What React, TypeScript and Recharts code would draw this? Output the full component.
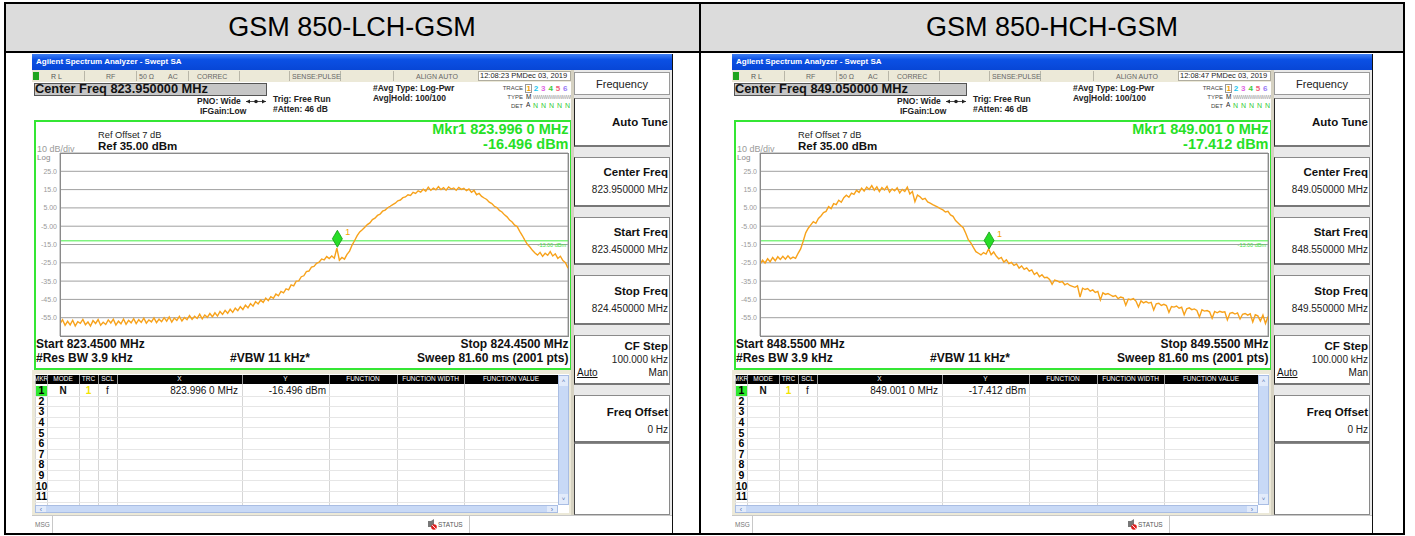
import React from "react";
import { CartesianGrid, Line, LineChart, ReferenceDot, ReferenceLine, XAxis, YAxis } from "recharts";

const FONT = "'Liberation Sans', Arial, Helvetica, sans-serif";

// 10 dB/div, ref 35 dBm
const yTicks = [35, 25, 15, 5, -5, -15, -25, -35, -45, -55, -65];
const xDivs = [0, 0.1, 0.2, 0.3, 0.4, 0.5, 0.6, 0.7, 0.8, 0.9, 1];
const limitDbm = -13;

const lchRange = [823.45, 824.45];
const hchRange = [848.55, 849.55];
const lchMarker = { f: 823.996, v: -16.496 };
const hchMarker = { f: 849.001, v: -17.412 };

// trace levels (dBm), 201 points across the span
const lchLevels = [
  -58.4, -56.1, -59.2, -57.0, -58.9, -56.4, -59.5, -57.2, -58.1, -55.9,
  -58.8, -57.3, -59.6, -56.6, -58.2, -56.0, -59.1, -57.5, -58.7, -56.2,
  -57.9, -55.8, -59.0, -56.9, -58.3, -55.7, -58.6, -56.4, -57.8, -55.5,
  -58.2, -56.1, -57.6, -55.3, -58.0, -56.2, -57.3, -55.1, -57.7, -55.8,
  -57.2, -55.0, -56.9, -54.6, -57.4, -55.2, -56.5, -54.3, -56.8, -54.9,
  -56.1, -53.8, -55.9, -54.2, -55.4, -53.1, -55.6, -53.5, -54.8, -52.7,
  -54.5, -52.3, -54.1, -51.6, -53.2, -51.0, -52.6, -50.4, -52.1, -49.8,
  -51.2, -49.0, -50.5, -48.1, -49.6, -47.3, -48.7, -46.2, -47.5, -45.4,
  -46.6, -44.3, -45.7, -43.5, -44.4, -42.1, -43.0, -40.6, -41.4, -39.2,
  -39.8, -37.1, -37.6, -35.0, -34.9, -32.6, -32.1, -29.8, -29.5, -27.4,
  -27.0, -25.3, -24.6, -22.9, -23.4, -21.6, -22.7, -21.3, -22.5, -17.0,
  -23.6, -22.1, -23.0, -20.4, -18.6, -15.3, -12.8, -10.2, -8.1, -6.9,
  -5.6, -4.1, -3.2, -1.4, -0.6, 0.9, 1.6, 3.2, 3.8, 5.1,
  5.9, 6.8, 7.6, 8.9, 9.3, 10.6, 11.0, 12.2, 11.8, 13.5,
  12.9, 14.3, 13.6, 15.2, 14.1, 16.3, 14.6, 15.8, 14.9, 16.6,
  15.0, 16.1, 14.7, 16.4, 15.3, 15.9, 14.6, 16.2, 15.1, 15.7,
  14.4, 15.3, 13.5, 14.6, 12.2, 12.9, 11.3, 10.4, 9.6, 8.1,
  7.4, 5.9, 5.2, 3.6, 2.8, 1.2, 0.1, -1.6, -2.7, -4.4,
  -5.2, -7.8, -10.1, -12.6, -14.9, -16.4, -18.2, -19.6, -20.8, -19.3,
  -21.5, -19.8, -20.9, -18.9, -21.3, -20.1, -22.6, -21.4, -23.8, -24.9,
  -28.0,
];

const hchLevels = [
  -25.8, -23.6, -25.1, -22.8, -24.4, -22.1, -23.9, -21.7, -23.2, -21.5,
  -23.0, -21.2, -22.8, -21.9, -22.6, -19.8, -17.4, -13.2, -8.6, -6.1,
  -4.3, -2.5, -3.4, -0.8, 0.6, 2.4, 3.1, 5.7, 4.6, 7.3,
  6.8, 9.2, 8.1, 10.6, 11.9, 10.8, 13.1, 12.4, 14.6, 13.5,
  15.8, 14.2, 16.4, 15.1, 17.2, 14.7, 16.5, 13.9, 16.1, 14.8,
  16.7, 13.6, 15.4, 14.3, 16.0, 13.2, 15.1, 14.0, 16.4, 12.6,
  13.9, 8.4, 12.0, 11.1, 9.6, 10.2, 8.3, 7.6, 6.8, 6.1,
  5.4, 4.6, 3.9, 2.8, 3.1, 1.2, 0.4, -1.9, -3.2, -4.6,
  -5.8, -8.9, -12.4, -14.1, -16.6, -18.9, -19.8, -20.7, -19.4, -20.2,
  -17.4, -20.6, -19.1, -21.3, -22.8, -22.1, -24.6, -23.4, -25.5, -24.8,
  -26.4, -25.6, -27.9, -26.7, -28.6, -27.8, -29.6, -28.9, -31.4, -30.3,
  -32.6, -31.5, -33.2, -32.9, -34.1, -36.8, -34.4, -34.9, -35.6, -35.2,
  -37.0, -36.3, -37.4, -37.9, -38.4, -37.6, -43.7, -38.9, -39.6, -39.1,
  -40.5, -39.8, -41.2, -40.6, -45.3, -41.4, -42.3, -41.8, -42.6, -43.4,
  -42.9, -44.6, -43.7, -44.1, -48.2, -44.8, -45.2, -44.6, -45.9, -49.1,
  -45.8, -46.9, -46.2, -47.0, -46.6, -50.8, -47.4, -47.1, -48.3, -47.7,
  -48.4, -52.1, -48.9, -49.2, -48.6, -49.8, -49.3, -53.4, -50.1, -49.6,
  -50.6, -50.2, -51.0, -54.6, -50.7, -51.4, -51.1, -51.8, -55.3, -51.6,
  -52.3, -51.5, -52.0, -51.8, -56.2, -52.6, -52.2, -53.0, -52.4, -55.7,
  -53.1, -52.7, -53.6, -52.9, -57.4, -53.4, -54.0, -56.8, -53.6, -58.2,
  -54.4,
];

const tableHeaders = ["MKR", "MODE", "TRC", "SCL", "X", "Y", "FUNCTION", "FUNCTION WIDTH", "FUNCTION VALUE"];
const tableCols = [3, 15, 47, 66, 85, 210, 297, 365, 432, 526];
const rowNums = [1, 2, 3, 4, 5, 6, 7, 8, 9, 10, 11];
const traceDigits = [
  { d: "1", c: "#f0a000" },
  { d: "2", c: "#19c6f0" },
  { d: "3", c: "#e066e0" },
  { d: "4", c: "#3ccc3c" },
  { d: "5", c: "#f0607a" },
  { d: "6", c: "#9a7cf5" },
];

const panels = [
  {
    title: "GSM 850-LCH-GSM",
    center: "823.950000 MHz",
    startVal: "823.450000 MHz",
    stopVal: "824.450000 MHz",
    start: "823.4500 MHz",
    stop: "824.4500 MHz",
    time: "12:08:23 PMDec 03, 2019",
    range: lchRange,
    levels: lchLevels,
    marker: lchMarker,
    mkrX: "823.996 0 MHz",
    mkrY: "-16.496 dBm",
  },
  {
    title: "GSM 850-HCH-GSM",
    center: "849.050000 MHz",
    startVal: "848.550000 MHz",
    stopVal: "849.550000 MHz",
    start: "848.5500 MHz",
    stop: "849.5500 MHz",
    time: "12:08:47 PMDec 03, 2019",
    range: hchRange,
    levels: hchLevels,
    marker: hchMarker,
    mkrX: "849.001 0 MHz",
    mkrY: "-17.412 dBm",
  },
];

function T({ x, y, s = 8, b = false, c = "#111", a = "l", children, style }: any) {
  const w = 600;
  const left = a === "l" ? x : a === "r" ? x - w : x - w / 2;
  return (
    <div
      style={{
        position: "absolute",
        left,
        top: y - s / 2,
        width: w,
        height: s,
        lineHeight: `${s}px`,
        fontSize: s,
        fontWeight: b ? 700 : 400,
        color: c,
        textAlign: a === "l" ? "left" : a === "r" ? "right" : "center",
        whiteSpace: "nowrap",
        ...style,
      }}
    >
      {children}
    </div>
  );
}

function Box({ x, y, w, h, style }: any) {
  return <div style={{ position: "absolute", left: x, top: y, width: w, height: h, boxSizing: "border-box", ...style }} />;
}

const fmtY = (v: number) => (v === 35 || v === -65 ? "" : Math.abs(v) < 10 ? v.toFixed(2) : v.toFixed(1));

const Diamond = (props: any) => {
  const { cx, cy } = props;
  return (
    <g>
      <polygon
        points={`${cx},${cy} ${cx + 5},${cy - 8.5} ${cx},${cy - 17} ${cx - 5},${cy - 8.5}`}
        fill="#27dd27"
        stroke="#129a12"
        strokeWidth={0.8}
      />
      <text x={cx + 8} y={cy - 12} fontSize={9} fill="#f5a300" fontFamily={FONT}>
        1
      </text>
    </g>
  );
};

const keyStyle = {
  background: "#fff",
  border: "1px solid #8a8a8a",
  borderLeft: "1px solid #222",
  borderBottom: "2px solid #777",
};

function Analyzer({ p, left, top }: any) {
  const [f0, f1] = p.range;
  const step = (f1 - f0) / (p.levels.length - 1);
  const data = p.levels.map((v: number, i: number) => ({ f: f0 + i * step, v }));
  const xTicks = xDivs.map((d) => f0 + d * (f1 - f0));

  const keys = [
    { top: 44, h: 49, label: "Auto Tune", ly: 25 },
    { top: 103, h: 50, label: "Center Freq", ly: 16, value: p.center, vy: 33 },
    { top: 163, h: 48, label: "Start Freq", ly: 16, value: p.startVal, vy: 33 },
    { top: 221, h: 50, label: "Stop Freq", ly: 17, value: p.stopVal, vy: 34 },
    { top: 281, h: 50, label: "CF Step", ly: 12, value: "100.000 kHz", vy: 25, auto: true },
    { top: 341, h: 48, label: "Freq Offset", ly: 18, value: "0 Hz", vy: 35 },
  ];

  return (
    <div style={{ position: "absolute", left, top, width: 641, height: 479, background: "#fff", overflow: "hidden", fontFamily: FONT }}>
      {/* window title */}
      <Box x={0} y={0} w={641} h={16} style={{ background: "linear-gradient(#3f80f4, #0b50e4 35%, #0746d6)" }} />
      <T x={4} y={8} s={8} b c="#fff">Agilent Spectrum Analyzer - Swept SA</T>

      {/* status bar */}
      <Box x={0} y={16} w={540} h={12} style={{ background: "#ece9d8" }} />
      <Box x={1} y={18} w={6} h={8} style={{ background: "#1fa51f" }} />
      {[52, 104, 156, 207, 257, 308, 361].map((d) => (
        <Box key={d} x={d} y={17} w={1} h={10} style={{ background: "#b9b6a8" }} />
      ))}
      <T x={19} y={22} s={7} c="#555">R L</T>
      <T x={74} y={22} s={7} c="#666">RF</T>
      <T x={107} y={22} s={7} c="#666">50 Ω</T>
      <T x={136} y={22} s={7} c="#666">AC</T>
      <T x={165} y={22} s={7} c="#666">CORREC</T>
      <T x={260} y={22} s={7} c="#666">SENSE:PULSE</T>
      <T x={384} y={22} s={7} c="#666">ALIGN AUTO</T>
      <Box x={446} y={17} w={93} h={10} style={{ background: "#fff", border: "1px solid #b0ad9f" }} />
      <T x={448} y={22} s={7.5} c="#222">{p.time}</T>

      {/* settings area */}
      <Box x={1.5} y={29} w={233} h={13} style={{ background: "#c6c6c6", border: "1px solid #555" }} />
      <T x={3} y={35.5} s={12.8} b c="#111">Center Freq {p.center}</T>
      <T x={165} y={47} s={8.5} b c="#222">PNO: Wide</T>
      <svg style={{ position: "absolute", left: 213, top: 44 }} width={22} height={7}>
        <line x1={1} y1={3.5} x2={21} y2={3.5} stroke="#222" strokeWidth={0.8} />
        <polygon points="1,3.5 5,1.5 5,5.5" fill="#222" />
        <polygon points="21,3.5 17,1.5 17,5.5" fill="#222" />
        <circle cx={11} cy={3.5} r={1.8} fill="#222" />
      </svg>
      <T x={168} y={57.5} s={8.5} b c="#222">IFGain:Low</T>
      <T x={241} y={45} s={8.5} b c="#222">Trig: Free Run</T>
      <T x={241} y={55} s={8.5} b c="#222">#Atten: 46 dB</T>
      <T x={341} y={34} s={8.5} b c="#222">#Avg Type: Log-Pwr</T>
      <T x={341} y={44} s={8.5} b c="#222">Avg|Hold: 100/100</T>
      <T x={491} y={34} s={6} a="r" c="#444">TRACE</T>
      <T x={491} y={43} s={6} a="r" c="#444">TYPE</T>
      <T x={491} y={51.5} s={6} a="r" c="#444">DET</T>
      <Box x={493} y={30} w={7} h={9} style={{ border: "1px solid #999" }} />
      {traceDigits.map((t, i) => (
        <T key={t.d} x={494.5 + i * 7.3} y={34.5} s={8} b c={t.c}>{t.d}</T>
      ))}
      <T x={494} y={43} s={6.5} c="#222">M</T>
      <T x={501} y={43} s={5} c="#999" style={{ letterSpacing: -0.6 }}>WWWWWWWWWW</T>
      <T x={494} y={51.5} s={6.5} c="#222">A</T>
      <T x={501} y={51.5} s={7} c="#33cc33" style={{ letterSpacing: 0.5 }}>N N N N N</T>

      {/* display frame */}
      <Box x={2} y={66} w={538} h={250} style={{ border: "2px solid #34e634", background: "#fff" }} />
      <T x={66} y={82} s={9.3} c="#222">Ref Offset 7 dB</T>
      <T x={66} y={93} s={11.5} b c="#111">Ref 35.00 dBm</T>
      <T x={5} y={95} s={9} c="#9a9a9a">10 dB/div</T>
      <T x={5} y={103.5} s={8} c="#8a8a8a">Log</T>
      <T x={536.5} y={75.5} s={14.5} b a="r" c="#26e026">Mkr1 {p.mkrX}</T>
      <T x={536.5} y={90.5} s={14.5} b a="r" c="#26e026">{p.mkrY}</T>

      <div style={{ position: "absolute", left: 4, top: 96 }}>
        <LineChart width={534} height={190} data={data} margin={{ top: 3, right: 2, bottom: 4, left: 0 }} style={{ fontFamily: FONT }}>
          <CartesianGrid stroke="#a0a0a0" strokeWidth={1} />
          <XAxis
            type="number"
            dataKey="f"
            domain={[f0, f1]}
            ticks={xTicks}
            tick={false}
            tickLine={false}
            axisLine={false}
            height={0}
            allowDataOverflow
          />
          <YAxis
            type="number"
            domain={[-65, 35]}
            ticks={yTicks}
            interval={0}
            tickFormatter={fmtY}
            tick={{ fontSize: 7, fill: "#9a9a9a" }}
            tickLine={false}
            axisLine={false}
            tickSize={0}
            tickMargin={3}
            width={24}
            allowDataOverflow
          />
          <ReferenceLine
            y={limitDbm}
            stroke="#44ee44"
            strokeWidth={1}
            label={{ value: "-13.00 dBm", position: "insideTopRight", fill: "#3ee03e", fontSize: 5.5, offset: 2 }}
          />
          <Line type="linear" dataKey="v" stroke="#f7a21b" strokeWidth={1.4} dot={false} isAnimationActive={false} />
          <ReferenceDot x={p.marker.f} y={p.marker.v} r={0} shape={Diamond} />
        </LineChart>
      </div>
      <Box x={28} y={99} w={509} h={184} style={{ border: "1px solid #8a8a8a" }} />

      <T x={4} y={290} s={12} b c="#111">Start {p.start}</T>
      <T x={536.5} y={290} s={12} b a="r" c="#111">Stop {p.stop}</T>
      <T x={4} y={303.5} s={12} b c="#111">#Res BW 3.9 kHz</T>
      <T x={198} y={303.5} s={12} b c="#111">#VBW 11 kHz*</T>
      <T x={536.5} y={303.5} s={12} b a="r" c="#111">Sweep  81.60 ms (2001 pts)</T>

      {/* marker table */}
      <Box x={0} y={316} w={540} h={145} style={{ background: "#ece9d8" }} />
      <Box x={3} y={320} w={534} h={139} style={{ background: "#fff" }} />
      <Box x={3} y={321} w={523} h={9} style={{ background: "#000" }} />
      {tableHeaders.map((h, i) => (
        <React.Fragment key={h}>
          <Box x={tableCols[i]} y={321} w={1} h={9} style={{ background: "#9a9a9a" }} />
          <T x={(tableCols[i] + tableCols[i + 1]) / 2} y={325.5} s={6.5} a="c" c="#fff">
            {h}
          </T>
        </React.Fragment>
      ))}
      {tableCols.map((c) => (
        <Box key={c} x={c} y={330} w={1} h={121} style={{ background: "#d6d6d6" }} />
      ))}
      {rowNums.map((n, i) => (
        <React.Fragment key={n}>
          <Box x={3} y={331 + i * 10.6 + 10.6} w={523} h={1} style={{ background: "#e6e6e6" }} />
          {n === 1 && <Box x={4} y={331.5} w={11} h={10} style={{ background: "#2ee82e" }} />}
          <T x={9.5} y={336.5 + i * 10.6} s={10.5} b a="c" c="#000">
            {n}
          </T>
        </React.Fragment>
      ))}
      <T x={31} y={336.5} s={10} b a="c" c="#111">N</T>
      <T x={56.5} y={336.5} s={10} b a="c" c="#f2e400">1</T>
      <T x={75.5} y={336.5} s={10} a="c" c="#111">f</T>
      <T x={206} y={336.5} s={10} a="r" c="#111">{p.mkrX}</T>
      <T x={294} y={336.5} s={10} a="r" c="#111">{p.mkrY}</T>

      {/* scroll bars */}
      <Box x={526} y={321} w={11} h={130} style={{ background: "#c8d9f6", border: "1px solid #a9bde3" }} />
      <Box x={527} y={322} w={9} h={10} style={{ background: "#e2ebfb" }} />
      <Box x={527} y={440} w={9} h={10} style={{ background: "#e2ebfb" }} />
      <T x={531.5} y={327} s={6} a="c" c="#4d6fb0">˄</T>
      <T x={531.5} y={445} s={6} a="c" c="#4d6fb0">˅</T>
      <Box x={3} y={451} w={523} h={8} style={{ background: "#c8d9f6", border: "1px solid #a9bde3" }} />
      <Box x={4} y={452} w={10} h={6} style={{ background: "#e2ebfb" }} />
      <Box x={515} y={452} w={10} h={6} style={{ background: "#e2ebfb" }} />
      <T x={9} y={455} s={7} a="c" c="#4d6fb0">‹</T>
      <T x={520} y={455} s={7} a="c" c="#4d6fb0">›</T>

      {/* message line */}
      <Box x={0} y={461} w={641} h={18} style={{ background: "#fff", borderTop: "1px solid #c8c8c8" }} />
      <T x={3} y={471} s={6.5} c="#777">MSG</T>
      <Box x={20} y={462} w={1} h={17} style={{ background: "#c8c8c8" }} />
      <svg style={{ position: "absolute", left: 395, top: 465 }} width={10} height={11}>
        <rect x={1} y={2} width={3} height={6} fill="#777" />
        <polygon points="4,2 7,0 7,10 4,8" fill="#777" />
        <circle cx={7} cy={8} r={2.8} fill="#e02020" />
        <line x1={5.2} y1={6.2} x2={8.8} y2={9.8} stroke="#fff" strokeWidth={0.9} />
      </svg>
      <T x={406} y={471} s={6.5} c="#555">STATUS</T>
      <Box x={437} y={462} w={1} h={17} style={{ background: "#c8c8c8" }} />

      {/* soft keys */}
      <Box x={539} y={16} w={101} h={445} style={{ background: "#e9e9e9", borderLeft: "3px solid #d6d2c2" }} />
      <Box x={542} y={18} w={96} h={23} style={{ background: "#fff", border: "1px solid #9a9a9a" }} />
      <T x={590} y={30} s={11} a="c" c="#222">Frequency</T>
      {keys.map((k) => (
        <React.Fragment key={k.label}>
          <Box x={542} y={k.top} w={96} h={k.h} style={keyStyle} />
          <T x={636} y={k.top + k.ly} s={11.5} b a="r" c="#111">{k.label}</T>
          {k.value && <T x={636} y={k.top + k.vy} s={10} a="r" c="#222">{k.value}</T>}
          {k.auto && (
            <>
              <T x={545} y={k.top + 38} s={10} c="#111" style={{ textDecoration: "underline" }}>Auto</T>
              <T x={636} y={k.top + 38} s={10} a="r" c="#111">Man</T>
            </>
          )}
        </React.Fragment>
      ))}
      <Box x={542} y={389} w={96} h={72} style={{ background: "#fff", border: "1px solid #8a8a8a", borderLeft: "1px solid #444" }} />
      <Box x={640} y={0} w={1} h={479} style={{ background: "#111" }} />
    </div>
  );
}

export default function App() {
  return (
    <div style={{ position: "absolute", left: 0, top: 0, width: 1415, height: 536, background: "#fff", fontFamily: FONT, overflow: "hidden" }}>
      <Box x={6} y={4} w={1397} h={47} style={{ background: "#dcdcdc" }} />
      <Box x={4} y={2} w={1401} h={533} style={{ border: "2px solid #000" }} />
      <Box x={4} y={51} w={1401} h={2} style={{ background: "#000" }} />
      <Box x={699} y={2} w={2} h={533} style={{ background: "#000" }} />
      <T x={352} y={27} s={27} a="c" c="#000">{panels[0].title}</T>
      <T x={1052} y={27} s={27} a="c" c="#000">{panels[1].title}</T>
      <Analyzer p={panels[0]} left={32} top={54} />
      <Analyzer p={panels[1]} left={732} top={54} />
    </div>
  );
}
